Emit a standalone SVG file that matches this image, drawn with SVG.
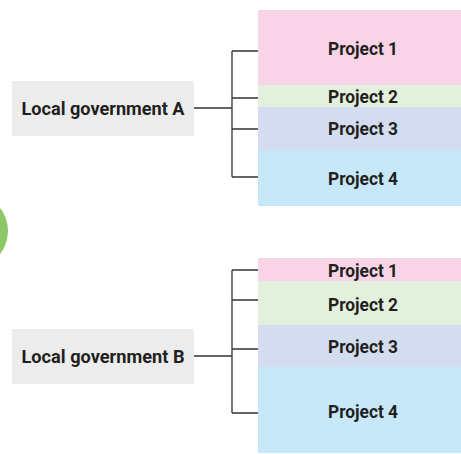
<svg xmlns="http://www.w3.org/2000/svg" width="461" height="454" viewBox="0 0 461 454">
<style>
.t{font-family:Roboto,"Liberation Sans",sans-serif;font-weight:700;font-size:18.5px;fill:#231f20;text-anchor:middle}
.c{fill:none;stroke:#333;stroke-width:1.3}
.gov{fill:#ececec}
.p1{fill:#f8d4e6}.p2{fill:#e3f0dd}.p3{fill:#d4ddef}.p4{fill:#c7e8f8}
</style>
<rect width="461" height="454" fill="#fff"/>
<circle cx="-30" cy="231" r="38" fill="#8cc867"/>
<g id="connectors">
<path class="c" d="M194 108H232M232 51V177M232 51H258M232 98H258M232 129H258M232 177H258"/>
<path class="c" d="M194 356H232M232 270V413M232 270H258M232 300H258M232 349H258M232 413H258"/>
</g>
<g id="govA"><rect class="gov" x="12" y="81" width="182" height="55"/><text class="t" x="103" y="115" textLength="163" lengthAdjust="spacingAndGlyphs">Local government A</text></g>
<g id="a1"><rect class="p1" x="258" y="10" width="203" height="75"/><text class="t" x="363" y="55" textLength="70" lengthAdjust="spacingAndGlyphs">Project 1</text></g>
<g id="a2"><rect class="p2" x="258" y="85" width="203" height="22"/><text class="t" x="363" y="103" textLength="70" lengthAdjust="spacingAndGlyphs">Project 2</text></g>
<g id="a3"><rect class="p3" x="258" y="107" width="203" height="44"/><text class="t" x="363" y="135" textLength="70" lengthAdjust="spacingAndGlyphs">Project 3</text></g>
<g id="a4"><rect class="p4" x="258" y="151" width="203" height="55"/><text class="t" x="363" y="185" textLength="70" lengthAdjust="spacingAndGlyphs">Project 4</text></g>
<g id="govB"><rect class="gov" x="12" y="329" width="182" height="55"/><text class="t" x="103" y="363" textLength="163" lengthAdjust="spacingAndGlyphs">Local government B</text></g>
<g id="b1"><rect class="p1" x="258" y="258" width="203" height="23"/><text class="t" x="363" y="277" textLength="70" lengthAdjust="spacingAndGlyphs">Project 1</text></g>
<g id="b2"><rect class="p2" x="258" y="281" width="203" height="44"/><text class="t" x="363" y="311" textLength="70" lengthAdjust="spacingAndGlyphs">Project 2</text></g>
<g id="b3"><rect class="p3" x="258" y="325" width="203" height="42"/><text class="t" x="363" y="353" textLength="70" lengthAdjust="spacingAndGlyphs">Project 3</text></g>
<g id="b4"><rect class="p4" x="258" y="367" width="203" height="86"/><text class="t" x="363" y="418" textLength="70" lengthAdjust="spacingAndGlyphs">Project 4</text></g>
</svg>
